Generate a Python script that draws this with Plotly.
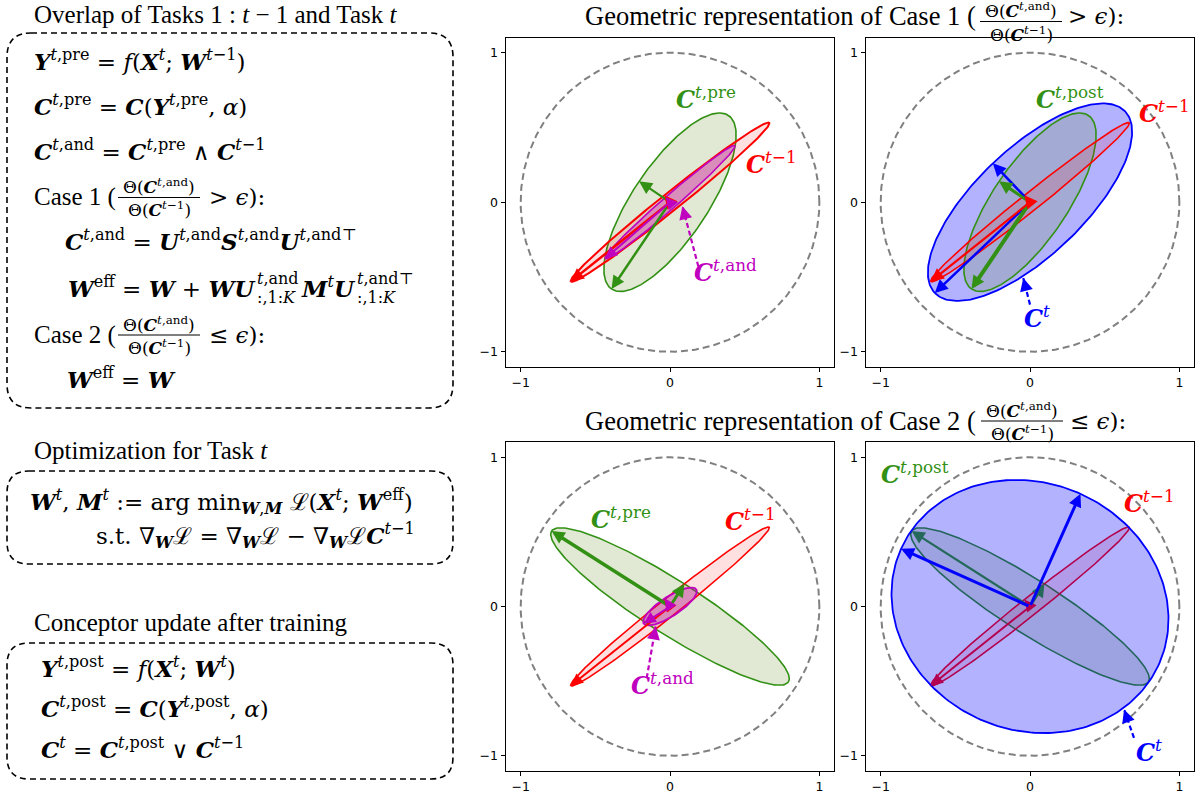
import numpy as np
import plotly.graph_objects as go

W, H = 1195, 797


def px(x):
    return x / W


def py(y):
    return 1 - y / H


# ---------------- data ----------------
# ellipses: [semi-major, semi-minor], direction (deg) of the major-axis arrow
prev_axes = [0.85, 0.06]
prev_dir = 218.6
pre1_axes = [0.70, 0.25]
pre1_dir = 236.0
and1_axes = [0.575, 0.045]
and1_dir = 221.0
post1_axes = [0.70, 0.25]
post1_dir = 236.0
t1_axes = [0.88, 0.36]
t1_dir = 223.6
pre2_axes = [0.94, 0.18]
pre2_dir = 147.5
and2_axes = [0.21, 0.065]
and2_dir = 213.0
post2_axes = [0.94, 0.18]
post2_dir = 147.5
t2_axes = [0.946, 0.827]
t2_dir = 155.9
unit_radius = 1.0

tick_vals = [-1, 0, 1]
tick_text = ["\u22121", "0", "1"]

# label positions (data coords) per panel
labels_A = [("pre", 0.24, 0.70), ("prev", 0.68, 0.265), ("and", 0.37, -0.46)]
labels_B = [("post", 0.27, 0.70), ("prev", 0.90, 0.60), ("t", 0.05, -0.77)]
labels_C = [("pre", -0.33, 0.595), ("prev", 0.536, 0.58), ("and", -0.047, -0.52)]
labels_D = [("post", -0.77, 0.895), ("prev", 0.80, 0.70), ("t", 0.80, -0.97)]
# dashed pointer arrows: tail (x, y) -> head (x, y)
pointer_A = [0.19, -0.43, 0.083, -0.027]
pointer_B = [0.0, -0.685, -0.045, -0.507]
pointer_C = [-0.156, -0.48, -0.096, -0.134]
pointer_D = [0.696, -0.88, 0.63, -0.69]

# ---------------- styles ----------------
RED = "rgb(255,0,0)"
RED_FILL = "rgba(255,0,0,0.12)"
GREEN = "rgb(50,145,20)"
GREEN_FILL = "rgba(107,142,35,0.2)"
MAG = "rgb(191,0,191)"
MAG_FILL = "rgba(191,0,191,0.3)"
BLUE = "rgb(0,0,255)"
BLUE_FILL = "rgba(0,0,255,0.3)"
GRAY = "rgb(128,128,128)"
RED_UNDER = "rgb(180,0,80)"
GREEN_UNDER = "rgb(36,105,90)"

SERIF = "Liberation Serif"
MATH = "DejaVu Serif"
HEAD = 25
MAIN = 23
SMALL = 17

fig = go.Figure()
ann = []
shapes = []


def ellipse_xy(axes, direction, n=240):
    a, b = axes
    phi = np.deg2rad(direction)
    t = np.linspace(0, 2 * np.pi, n)
    x = a * np.cos(t) * np.cos(phi) - b * np.sin(t) * np.sin(phi)
    y = a * np.cos(t) * np.sin(phi) + b * np.sin(t) * np.cos(phi)
    return x, y


def add_ellipse(k, axes, direction, line, fill, width=1.6):
    x, y = ellipse_xy(axes, direction)
    fig.add_trace(go.Scatter(
        x=x, y=y, mode="lines", fill="toself" if fill else None,
        fillcolor=fill, line=dict(color=line, width=width),
        xaxis="x%s" % k, yaxis="y%s" % k, hoverinfo="skip", showlegend=False))


def add_arrow(k, x0, y0, x1, y1, color, width):
    ref = "%s" % k
    ann.append(dict(x=x1, y=y1, ax=x0, ay=y0, xref="x" + ref, yref="y" + ref,
                    axref="x" + ref, ayref="y" + ref, showarrow=True, arrowhead=2,
                    arrowsize=min(1.2, 2.6 / width), arrowwidth=width, arrowcolor=color,
                    text="", standoff=0))


def add_axes_arrows(k, axes, direction, color, w_major, w_minor):
    a, b = axes
    phi = np.deg2rad(direction)
    add_arrow(k, 0, 0, a * np.cos(phi), a * np.sin(phi), color, w_major)
    phi2 = np.deg2rad(direction - 90)
    add_arrow(k, 0, 0, b * np.cos(phi2), b * np.sin(phi2), color, w_minor)


def C(s):
    return "<b><i>C</i></b><sup>%s</sup>" % s


LABEL_TEXT = {
    "pre": C("<i>t</i>,pre"),
    "post": C("<i>t</i>,post"),
    "prev": C("<i>t</i>\u22121"),
    "and": C("<i>t</i>,and"),
    "t": C("<i>t</i>"),
}
LABEL_COLOR = {"pre": GREEN, "post": GREEN, "prev": RED, "and": MAG, "t": BLUE}


def add_labels(k, labels):
    ref = "%s" % k
    for key, x, y in labels:
        ann.append(dict(x=x, y=y, xref="x" + ref, yref="y" + ref, text=LABEL_TEXT[key],
                        showarrow=False, font=dict(family=MATH, size=24,
                                                   color=LABEL_COLOR[key]),
                        xanchor="center", yanchor="middle"))


def add_pointer(k, p, color):
    x0, y0, x1, y1 = p
    fig.add_trace(go.Scatter(x=[x0, x1], y=[y0, y1], mode="lines",
                             line=dict(color=color, width=2.2, dash="5px,3px"),
                             xaxis="x%s" % k, yaxis="y%s" % k, hoverinfo="skip",
                             showlegend=False))
    add_arrow(k, x1 + 0.25 * (x0 - x1), y1 + 0.25 * (y0 - y1), x1, y1, color, 2.2)


def add_circle(k):
    t = np.linspace(0, 2 * np.pi, 361)
    fig.add_trace(go.Scatter(x=unit_radius * np.cos(t), y=unit_radius * np.sin(t),
                             mode="lines", line=dict(color=GRAY, width=2, dash="7px,4px"),
                             xaxis="x%s" % k, yaxis="y%s" % k, hoverinfo="skip",
                             showlegend=False))


# ---- Panel A (case 1, before) ----
add_circle("")
add_ellipse("", pre1_axes, pre1_dir, GREEN, GREEN_FILL, 1.6)
add_ellipse("", prev_axes, prev_dir, RED, RED_FILL, 2.0)
add_ellipse("", and1_axes, and1_dir, MAG, MAG_FILL, 1.6)
add_axes_arrows("", pre1_axes, pre1_dir, GREEN, 2.5, 2.2)
add_axes_arrows("", prev_axes, prev_dir, RED, 2.5, 2.5)
add_axes_arrows("", and1_axes, and1_dir, MAG, 2.0, 2.0)
add_labels("", labels_A)
add_pointer("", pointer_A, MAG)

# ---- Panel B (case 1, after) ----
add_circle("2")
add_ellipse("2", t1_axes, t1_dir, BLUE, BLUE_FILL, 1.8)
add_ellipse("2", post1_axes, post1_dir, GREEN, GREEN_FILL, 1.6)
add_ellipse("2", prev_axes, prev_dir, RED, RED_FILL, 1.6)
add_axes_arrows("2", t1_axes, t1_dir, BLUE, 2.5, 2.5)
add_axes_arrows("2", post1_axes, post1_dir, GREEN, 4.0, 3.0)
add_axes_arrows("2", prev_axes, prev_dir, RED, 2.2, 2.2)
add_labels("2", labels_B)
add_pointer("2", pointer_B, BLUE)

# ---- Panel C (case 2, before) ----
add_circle("3")
add_ellipse("3", pre2_axes, pre2_dir, GREEN, GREEN_FILL, 1.6)
add_ellipse("3", prev_axes, prev_dir, RED, RED_FILL, 1.6)
add_ellipse("3", and2_axes, and2_dir, MAG, MAG_FILL, 1.8)
add_axes_arrows("3", pre2_axes, pre2_dir, GREEN, 3.5, 3.0)
add_axes_arrows("3", prev_axes, prev_dir, RED, 2.0, 2.0)
add_axes_arrows("3", and2_axes, and2_dir, MAG, 2.0, 2.0)
add_labels("3", labels_C)
add_pointer("3", pointer_C, MAG)

# ---- Panel D (case 2, after) ----
add_circle("4")
add_ellipse("4", post2_axes, post2_dir, GREEN, GREEN_FILL, 1.6)
add_ellipse("4", prev_axes, prev_dir, RED, RED_FILL, 1.6)
add_ellipse("4", t2_axes, t2_dir, BLUE, BLUE_FILL, 1.8)
add_axes_arrows("4", post2_axes, post2_dir, GREEN_UNDER, 2.2, 2.5)
add_axes_arrows("4", prev_axes, prev_dir, RED_UNDER, 2.0, 2.0)
add_axes_arrows("4", t2_axes, t2_dir, BLUE, 3.0, 3.0)
add_labels("4", labels_D)
add_pointer("4", pointer_D, BLUE)


# ---------------- axes ----------------
def axis(domain, anchor):
    return dict(domain=domain, anchor=anchor, range=[-1.1, 1.1], showline=True, mirror=True,
                linecolor="black", linewidth=1.4, ticks="outside", ticklen=4, tickwidth=1.2,
                tickcolor="black", tickvals=tick_vals, ticktext=tick_text, showgrid=False,
                zeroline=False, fixedrange=True,
                tickfont=dict(family="DejaVu Sans", size=12.5, color="black"))


xL = [px(505.7), px(834.3)]
xR = [px(865.7), px(1194.3)]
yT = [py(366.7), py(37.7)]
yB = [py(770.7), py(442.3)]

layout_axes = dict(
    xaxis=axis(xL, "y"), yaxis=axis(yT, "x"),
    xaxis2=axis(xR, "y2"), yaxis2=axis(yT, "x2"),
    xaxis3=axis(xL, "y3"), yaxis3=axis(yB, "x3"),
    xaxis4=axis(xR, "y4"), yaxis4=axis(yB, "x4"),
)


# ---------------- text panels ----------------
def B(s):
    return "<b><i>%s</i></b>" % s


def text(s, x, y, size=MAIN, anchor="left", family=MATH):
    ann.append(dict(x=px(x), y=py(y), xref="paper", yref="paper", text=s, showarrow=False,
                    xanchor=anchor, yanchor="middle",
                    font=dict(family=family, size=size, color="black")))


def frac(num, den, cx, ybar, half_w, size=SMALL):
    text(num, cx, ybar - 11, size, "center")
    text(den, cx, ybar + 12, size, "center")
    shapes.append(dict(type="line", xref="paper", yref="paper", x0=px(cx - half_w),
                       x1=px(cx + half_w), y0=py(ybar), y1=py(ybar),
                       line=dict(color="black", width=1)))


def rbox(x0, y0, x1, y1, r):
    p = ("M {a},{b} L {c},{b} Q {d},{b} {d},{e} L {d},{f} Q {d},{g} {c},{g} "
         "L {a},{g} Q {h},{g} {h},{f} L {h},{e} Q {h},{b} {a},{b} Z").format(
        a=px(x0 + r), b=py(y0), c=px(x1 - r), d=px(x1), e=py(y0 + r), f=py(y1 - r),
        g=py(y1), h=px(x0))
    shapes.append(dict(type="path", xref="paper", yref="paper", path=p,
                       line=dict(color="black", width=1.6, dash="6px,4px")))


t = "<i>t</i>"
num = "\u0398(" + B("C") + "<sup>" + t + ",and</sup>)"
den = "\u0398(" + B("C") + "<sup>" + t + "\u22121</sup>)"

# Box 1
text("Overlap of Tasks 1 : " + t + " \u2212 1 and Task " + t, 32, 15, HEAD, family=SERIF)
rbox(7, 33, 453, 408, 24)
text(B("Y") + "<sup>" + t + ",pre</sup> = <i>f</i>(" + B("X") + "<sup>" + t + "</sup>; "
     + B("W") + "<sup>" + t + "\u22121</sup>)", 32, 60)
text(B("C") + "<sup>" + t + ",pre</sup> = " + B("C") + "(" + B("Y") + "<sup>" + t
     + ",pre</sup>, <i>\u03b1</i>)", 32, 105)
text(B("C") + "<sup>" + t + ",and</sup> = " + B("C") + "<sup>" + t + ",pre</sup> \u2227 "
     + B("C") + "<sup>" + t + "\u22121</sup>", 32, 150)
text("Case 1 (", 32, 197, HEAD, family=SERIF)
frac(num, den, 159, 197.5, 41)
text("> <i>\u03f5</i>):", 207, 197)
text(B("C") + "<sup>" + t + ",and</sup> = " + B("U") + "<sup>" + t + ",and</sup>"
     + B("S") + "<sup>" + t + ",and</sup>" + B("U") + "<sup>" + t + ",and\u22a4</sup>", 63, 240)
text(B("W") + "<sup>eff</sup> = " + B("W") + " + " + B("W") + B("U"), 258, 287, MAIN, "right")
text(t + ",and", 255, 278, SMALL - 1)
text(":,1:<i>K</i>", 255, 297, SMALL - 1)
text(B("M") + "<sup>" + t + "</sup>" + B("U"), 299, 287)
text(t + ",and\u22a4", 355, 278, SMALL - 1)
text(":,1:<i>K</i>", 355, 297, SMALL - 1)
text("Case 2 (", 32, 335, HEAD, family=SERIF)
frac(num, den, 159, 335, 41)
text("\u2264 <i>\u03f5</i>):", 207, 335)
text(B("W") + "<sup>eff</sup> = " + B("W"), 65, 378)

# Box 2
text("Optimization for Task " + t, 32, 450, HEAD, family=SERIF)
rbox(7, 471, 453, 564, 22)
text(B("W") + "<sup>" + t + "</sup>, " + B("M") + "<sup>" + t + "</sup> := arg min<sub>"
     + B("W") + "," + B("M") + "</sub> \u2112(" + B("X") + "<sup>" + t + "</sup>; "
     + B("W") + "<sup>eff</sup>)", 28, 502)
text("s.t. \u2207<sub>" + B("W") + "</sub>\u2112 = \u2207<sub>" + B("W")
     + "</sub>\u2112 \u2212 \u2207<sub>" + B("W") + "</sub>\u2112" + B("C") + "<sup>" + t
     + "\u22121</sup>", 94, 535)

# Box 3
text("Conceptor update after training", 32, 622, HEAD, family=SERIF)
rbox(7, 643, 453, 779, 22)
text(B("Y") + "<sup>" + t + ",post</sup> = <i>f</i>(" + B("X") + "<sup>" + t + "</sup>; "
     + B("W") + "<sup>" + t + "</sup>)", 39, 667)
text(B("C") + "<sup>" + t + ",post</sup> = " + B("C") + "(" + B("Y") + "<sup>" + t
     + ",post</sup>, <i>\u03b1</i>)", 39, 707)
text(B("C") + "<sup>" + t + "</sup> = " + B("C") + "<sup>" + t + ",post</sup> \u2228 "
     + B("C") + "<sup>" + t + "\u22121</sup>", 39, 748)

# Titles over the geometric panels
TITLE = 26.5
text("Geometric representation of Case 1 (", 978, 16, TITLE, "right", family=SERIF)
frac(num, den, 1021, 21.5, 41)
text("> <i>\u03f5</i>):", 1066, 16)
text("Geometric representation of Case 2 (", 978, 421, TITLE, "right", family=SERIF)
frac(num, den, 1022, 421, 41)
text("\u2264 <i>\u03f5</i>):", 1068, 421)

fig.update_layout(
    width=W, height=H, margin=dict(l=0, r=0, t=0, b=0),
    paper_bgcolor="white", plot_bgcolor="white", showlegend=False,
    annotations=ann, shapes=shapes, **layout_axes)

fig.write_html("out.html", config={"displayModeBar": False},
               post_script="document.body.style.margin='0px';")
